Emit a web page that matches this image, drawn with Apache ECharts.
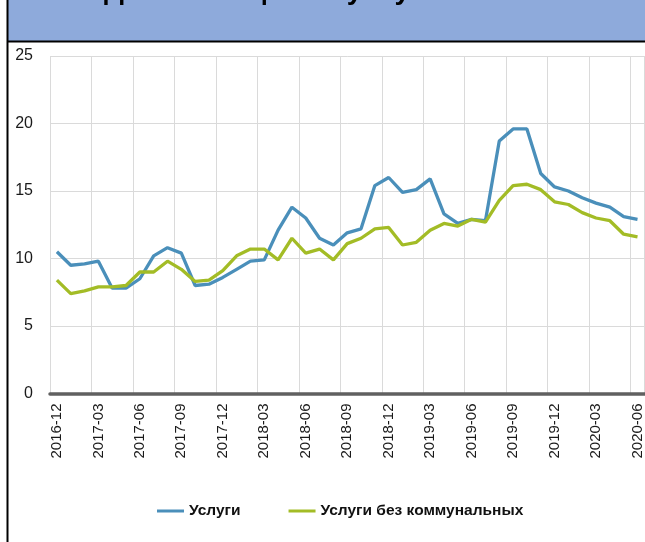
<!DOCTYPE html>
<html>
<head>
<meta charset="utf-8">
<script src="https://cdn.jsdelivr.net/npm/echarts@6/dist/echarts.min.js"></script>
<style>
  html, body { margin: 0; padding: 0; background: #fff; }
  #chart { width: 645px; height: 542px; }
</style>
</head>
<body>
<div id="chart"></div>
<script>
const months = [
  "2016-12", "2017-01", "2017-02", "2017-03", "2017-04", "2017-05", "2017-06",
  "2017-07", "2017-08", "2017-09", "2017-10", "2017-11", "2017-12",
  "2018-01", "2018-02", "2018-03", "2018-04", "2018-05", "2018-06",
  "2018-07", "2018-08", "2018-09", "2018-10", "2018-11", "2018-12",
  "2019-01", "2019-02", "2019-03", "2019-04", "2019-05", "2019-06",
  "2019-07", "2019-08", "2019-09", "2019-10", "2019-11", "2019-12",
  "2020-01", "2020-02", "2020-03", "2020-04", "2020-05", "2020-06"
];

// Услуги
const services = [
  10.5, 9.5, 9.6, 9.8, 7.8, 7.8, 8.5, 10.2, 10.8, 10.4, 8.0, 8.1, 8.6,
  9.2, 9.8, 9.9, 12.1, 13.8, 13.0, 11.5, 11.0, 11.9, 12.2, 15.4, 16.0,
  14.9, 15.1, 15.9, 13.3, 12.6, 12.9, 12.8, 18.7, 19.6, 19.6, 16.3, 15.3,
  15.0, 14.5, 14.1, 13.8, 13.1, 12.9
];

// Услуги без коммунальных
const servicesExUtil = [
  8.4, 7.4, 7.6, 7.9, 7.9, 8.0, 9.0, 9.0, 9.8, 9.2, 8.3, 8.4, 9.1,
  10.2, 10.7, 10.7, 9.9, 11.5, 10.4, 10.7, 9.9, 11.1, 11.5, 12.2, 12.3,
  11.0, 11.2, 12.1, 12.6, 12.4, 12.9, 12.7, 14.3, 15.4, 15.5, 15.1, 14.2,
  14.0, 13.4, 13.0, 12.8, 11.8, 11.6
];

const yTicks = [0, 5, 10, 15, 20, 25];

const chart = echarts.init(document.getElementById("chart"));

const option = {
  backgroundColor: "#fff",
  animation: false,
  textStyle: { fontFamily: "Liberation Sans, Arial, sans-serif" },
  graphic: [
    {
      type: "rect",
      shape: { x: 8, y: 0, width: 640, height: 42 },
      style: { fill: "#8eaadb" },
      silent: true
    },
    {
      // title is cut off at the top edge in the original
      type: "text",
      x: 104,
      y: 5,
      style: {
        text: "Динамика цен на услуги",
        font: "bold 28px Liberation Sans, Arial, sans-serif",
        fill: "#000",
        verticalAlign: "bottom"
      },
      silent: true
    },
    {
      type: "line",
      shape: { x1: 8, y1: 41.5, x2: 645, y2: 41.5 },
      style: { stroke: "#000", lineWidth: 2 },
      silent: true
    },
    {
      type: "line",
      shape: { x1: 7.5, y1: 0, x2: 7.5, y2: 542 },
      style: { stroke: "#000", lineWidth: 2 },
      silent: true
    }
  ],
  grid: {
    left: 50,
    right: 0,
    top: 56,
    bottom: 148.5,
    containLabel: false
  },
  legend: {
    left: 152,
    top: 498,
    itemGap: 48,
    itemWidth: 27,
    itemHeight: 3,
    icon: "rect",
    textStyle: {
      fontFamily: "Liberation Sans, Arial, sans-serif",
      fontSize: 15.5,
      fontWeight: "bold",
      color: "#111"
    },
    data: ["Услуги", "Услуги без коммунальных"]
  },
  xAxis: {
    type: "category",
    data: months,
    boundaryGap: true,
    axisLine: { lineStyle: { color: "#606060", width: 3.5 } },
    axisTick: { show: false },
    splitLine: {
      show: true,
      interval: (idx) => idx % 3 === 0,
      lineStyle: { color: "#dadada", width: 1 }
    },
    axisLabel: {
      rotate: 90,
      interval: 2,
      margin: 10,
      fontSize: 15,
      color: "#1a1a1a"
    }
  },
  yAxis: {
    type: "value",
    min: yTicks[0],
    max: yTicks[yTicks.length - 1],
    interval: 5,
    axisLine: { show: false },
    axisTick: { show: false },
    splitLine: { lineStyle: { color: "#dadada", width: 1 } },
    axisLabel: { fontSize: 16, color: "#1a1a1a", margin: 17 }
  },
  series: [
    {
      name: "Услуги",
      type: "line",
      data: services,
      showSymbol: false,
      symbol: "none",
      lineStyle: { color: "#4a8fba", width: 3.3 },
      itemStyle: { color: "#4a8fba" }
    },
    {
      name: "Услуги без коммунальных",
      type: "line",
      data: servicesExUtil,
      showSymbol: false,
      symbol: "none",
      lineStyle: { color: "#a3bc26", width: 3.3 },
      itemStyle: { color: "#a3bc26" }
    }
  ]
};

chart.setOption(option);
</script>
</body>
</html>
